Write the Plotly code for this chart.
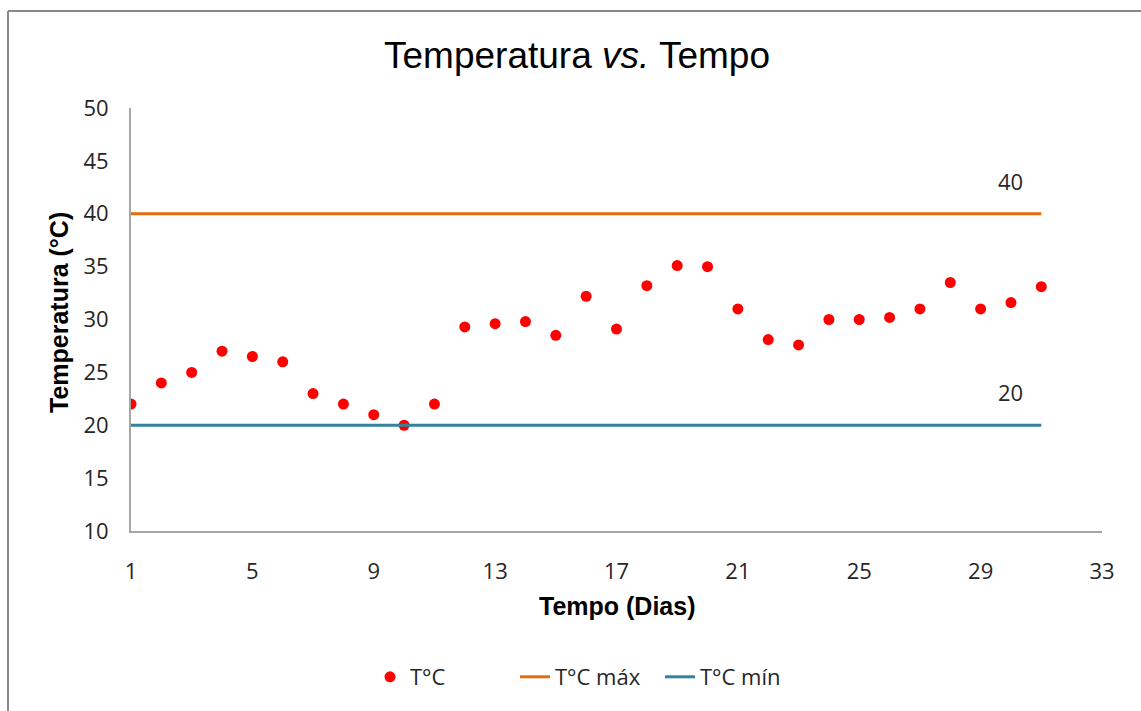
import plotly.graph_objects as go

days = list(range(1, 32))
temp = [22, 24, 25, 27, 26.5, 26, 23, 22, 21, 20, 22, 29.3, 29.6, 29.8, 28.5, 32.2,
        29.1, 33.2, 35.1, 35, 31, 28.1, 27.6, 30, 30, 30.2, 31, 33.5, 31, 31.6, 33.1]
tmax = [40, 40, 40, 40, 40, 40, 40, 40, 40, 40, 40, 40, 40, 40, 40, 40,
        40, 40, 40, 40, 40, 40, 40, 40, 40, 40, 40, 40, 40, 40, 40]
tmin = [20, 20, 20, 20, 20, 20, 20, 20, 20, 20, 20, 20, 20, 20, 20, 20,
        20, 20, 20, 20, 20, 20, 20, 20, 20, 20, 20, 20, 20, 20, 20]
label_day = 30

W, H = 1141, 711
L, R, T, B = 131, 1102, 108, 531


def px(x):
    return (x - L) / (R - L)


def py(y):
    return (B - y) / (B - T)


tick_font = dict(family="Open Sans", size=22, color="#262626")
axis_title_font = dict(family="Liberation Sans", size=25, color="black")

fig = go.Figure()
fig.add_trace(go.Scatter(x=days, y=temp, mode="markers", name="T°C",
                         marker=dict(color="#FF0000", size=11)))
fig.add_trace(go.Scatter(x=days, y=tmax, mode="lines", name="T°C máx",
                         line=dict(color="#E46C0A", width=3)))
fig.add_trace(go.Scatter(x=days, y=tmin, mode="lines", name="T°C mín",
                         line=dict(color="#31849B", width=3)))

for arr in (tmax, tmin):
    v = arr[label_day - 1]
    fig.add_annotation(x=label_day, y=v, text=str(v), showarrow=False,
                       yshift=33, font=tick_font)

fig.add_annotation(xref="paper", yref="paper", x=px(617), y=py(606),
                   xanchor="center", yanchor="middle", showarrow=False,
                   text="<b>Tempo (Dias)</b>", font=axis_title_font)
fig.add_annotation(xref="paper", yref="paper", x=px(59), y=py(313),
                   xanchor="center", yanchor="middle", showarrow=False, textangle=-90,
                   text="<b>Temperatura (°C)</b>", font=axis_title_font)

fig.update_layout(
    width=W, height=H,
    margin=dict(l=L, r=W - R, t=T, b=H - B),
    paper_bgcolor="white", plot_bgcolor="white",
    title=dict(text="Temperatura <i>vs.</i> Tempo", x=577 / W, xanchor="center",
               y=1 - 55 / H, yanchor="middle",
               font=dict(family="Liberation Sans", size=37, color="black")),
    showlegend=True,
    legend=dict(orientation="h", x=px(370), xanchor="left", y=py(677), yanchor="middle",
                font=dict(family="Open Sans", size=22, color="#262626"),
                entrywidth=100, entrywidthmode="pixels",
                traceorder="normal"),
    xaxis=dict(range=[1, 33], tick0=1, dtick=4, showgrid=False, zeroline=False,
               showline=True, linecolor="#A6A6A6", linewidth=2, ticks="",
               ticklabelstandoff=20, tickfont=tick_font),
    yaxis=dict(range=[10, 50], dtick=5, showgrid=False, zeroline=False,
               showline=True, linecolor="#A6A6A6", linewidth=2, ticks="",
               ticklabelstandoff=16, tickfont=tick_font),
    shapes=[
        dict(type="line", xref="paper", yref="paper", x0=px(8), x1=px(W + 5),
             y0=py(11), y1=py(11), line=dict(color="#888888", width=2)),
        dict(type="line", xref="paper", yref="paper", x0=px(8), x1=px(8),
             y0=py(11), y1=py(H + 5), line=dict(color="#888888", width=2)),
    ],
)

fig.write_html("out.html")
